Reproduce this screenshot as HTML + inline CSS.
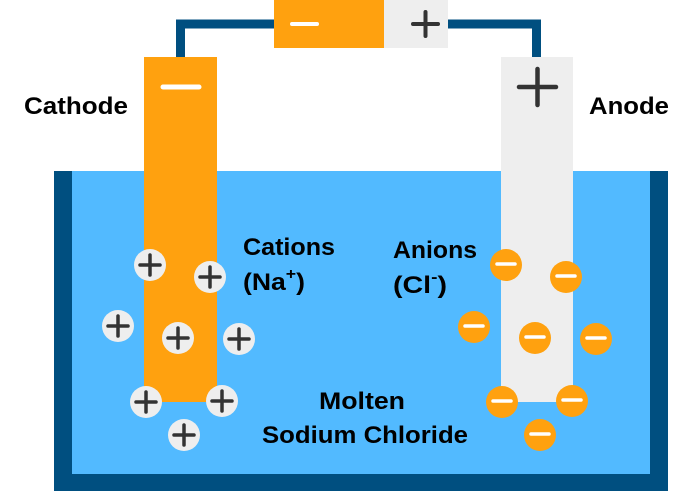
<!DOCTYPE html>
<html><head><meta charset="utf-8"><style>
html,body{margin:0;padding:0;background:#fff;}
svg{display:block;}
text{font-family:"Liberation Sans",sans-serif;font-weight:bold;fill:#000;font-size:24px;}
</style></head><body>
<svg width="686" height="491" viewBox="0 0 686 491" xmlns="http://www.w3.org/2000/svg">
<rect x="54" y="171" width="614" height="320" fill="#004f80"/>
<rect x="72" y="171" width="578" height="303" fill="#52baff"/>
<path d="M180.5 57 V24 H274 M448 24 H536.5 V57" fill="none" stroke="#004f80" stroke-width="9"/>
<rect x="274" y="0" width="110" height="48" fill="#ffa10f"/>
<rect x="384" y="0" width="64" height="48" fill="#eeeeee"/>
<line x1="292" y1="24" x2="317" y2="24" stroke="#fff" stroke-width="4" stroke-linecap="round"/>
<path d="M413 24 H438 M425.5 12 V36" stroke="#333" stroke-width="4" stroke-linecap="round"/>
<rect x="144" y="57" width="73" height="345" fill="#ffa10f"/>
<rect x="501" y="57" width="72" height="345" fill="#eeeeee"/>
<line x1="163" y1="87" x2="199" y2="87" stroke="#fff" stroke-width="5" stroke-linecap="round"/>
<path d="M519 87 H556 M537.5 69 V105" stroke="#333" stroke-width="4.5" stroke-linecap="round"/>
<g fill="#eeeeee">
<circle cx="150" cy="265" r="16"/><circle cx="210" cy="277" r="16"/><circle cx="118" cy="326" r="16"/><circle cx="178" cy="338" r="16"/><circle cx="239" cy="339" r="16"/><circle cx="146" cy="402" r="16"/><circle cx="222" cy="401" r="16"/><circle cx="184" cy="435" r="16"/>
</g>
<g stroke="#333" stroke-width="3.5" stroke-linecap="round">
<path d="M140 265h20M150 255v20"/><path d="M200 277h20M210 267v20"/><path d="M108 326h20M118 316v20"/><path d="M168 338h20M178 328v20"/><path d="M229 339h20M239 329v20"/><path d="M136 402h20M146 392v20"/><path d="M212 401h20M222 391v20"/><path d="M174 435h20M184 425v20"/>
</g>
<g fill="#ffa10f">
<circle cx="506" cy="265" r="16"/><circle cx="566" cy="277" r="16"/><circle cx="474" cy="327" r="16"/><circle cx="535" cy="338" r="16"/><circle cx="596" cy="339" r="16"/><circle cx="502" cy="402" r="16"/><circle cx="572" cy="401" r="16"/><circle cx="540" cy="435" r="16"/>
</g>
<g stroke="#fff" stroke-width="3.5" stroke-linecap="round">
<path d="M497 264h18"/><path d="M557 276h18"/><path d="M465 326h18"/><path d="M526 337h18"/><path d="M587 338h18"/><path d="M493 401h18"/><path d="M563 400h18"/><path d="M531 434h18"/>
</g>
<text x="24" y="114" textLength="104" lengthAdjust="spacingAndGlyphs">Cathode</text>
<text x="589" y="114" textLength="80" lengthAdjust="spacingAndGlyphs">Anode</text>
<text x="243" y="255" textLength="92" lengthAdjust="spacingAndGlyphs">Cations</text>
<text x="243" y="290" textLength="62" lengthAdjust="spacingAndGlyphs">(Na<tspan font-size="16" dy="-11">+</tspan><tspan dy="11">)</tspan></text>
<text x="393" y="258" textLength="84" lengthAdjust="spacingAndGlyphs">Anions</text>
<text x="393" y="293" textLength="54" lengthAdjust="spacingAndGlyphs">(Cl<tspan font-size="16" dy="-11">-</tspan><tspan dy="11">)</tspan></text>
<text x="319" y="409" textLength="86" lengthAdjust="spacingAndGlyphs">Molten</text>
<text x="262" y="443" textLength="206" lengthAdjust="spacingAndGlyphs">Sodium Chloride</text>
</svg>
</body></html>
